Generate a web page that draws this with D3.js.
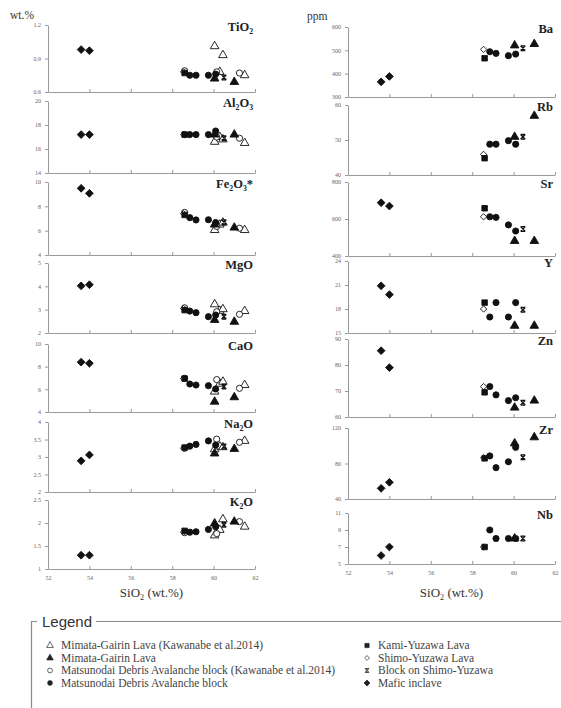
<!DOCTYPE html>
<html>
<head>
<meta charset="utf-8">
<script src="https://cdn.jsdelivr.net/npm/d3@7"></script>
<style>
body { margin: 0; background: #ffffff; }
svg { display: block; }
</style>
</head>
<body>
<svg id="chart" width="561" height="708"></svg>
<script>

//Panel names (digits get drawn as subscripts)
var majorNames = ["TiO2", "Al2O3", "Fe2O3*", "MgO", "CaO", "Na2O", "K2O"];
var traceNames = ["Ba", "Rb", "Sr", "Y", "Zn", "Zr", "Nb"];

//Tick labels of every panel, first and last are the axis limits
var majorTicks = [[0.6, 0.9, 1.2], [14, 16, 18, 20], [4, 6, 8, 10], [2, 3, 4, 5],
                  [4, 6, 8, 10], [2, 2.5, 3, 3.5, 4], [1, 1.5, 2, 2.5]];
var traceTicks = [[300, 400, 500, 600], [40, 50, 60], [400, 600, 800], [15, 18, 21, 24],
                  [60, 70, 80, 90], [40, 80, 120], [5, 7, 9, 11]];
var silicaTicks = [52, 54, 56, 58, 60, 62];

//Rows: SiO2, then TiO2, Al2O3, Fe2O3*, MgO, CaO, Na2O, K2O (wt.%)
var mimataKawanabeMajor = [[60.05, 1.01, 16.6, 6.05, 3.23, 5.80, 3.22, 1.73],
                           [60.30, 0.78, 17.0, 6.50, 2.95, 6.50, 3.30, 1.85],
                           [60.45, 0.93, 16.8, 6.66, 3.02, 6.67, 3.28, 2.08],
                           [61.50, 0.75, 16.5, 6.05, 2.94, 6.38, 3.46, 1.92]];
var mimataMajor = [[60.05, 0.72, 17.2, 6.50, 2.56, 4.91, 3.10, 1.99],
                   [61.00, 0.69, 17.2, 6.25, 2.48, 5.30, 3.23, 2.03]];
var matsuKawanabeMajor = [[58.60, 0.79, 17.2, 7.50, 3.08, 6.97, 3.25, 1.79],
                          [60.15, 0.78, 17.0, 6.35, 2.91, 6.86, 3.51, 1.77],
                          [61.25, 0.77, 16.9, 6.20, 2.80, 6.09, 3.42, 2.03]];
var matsuMajor = [[58.85, 0.75, 17.2, 7.07, 2.94, 6.47, 3.31, 1.80],
                  [59.15, 0.75, 17.2, 6.88, 2.87, 6.38, 3.36, 1.81],
                  [59.75, 0.75, 17.2, 6.90, 2.70, 6.32, 3.46, 1.86],
                  [60.10, 0.76, 17.5, 6.66, 2.77, 6.03, 3.34, 1.92]];
var kamiMajor = [[58.60, 0.77, 17.2, 7.29, 2.98, 6.95, 3.27, 1.83]];
var shimoMajor = [[58.55, 0.78, 17.2, 7.40, 3.05, 6.95, 3.25, 1.80]];
var blockMajor = [[60.50, 0.73, 16.9, 6.70, 2.70, 6.24, 3.30, 1.96]];
var maficMajor = [[53.60, 0.98, 17.2, 9.48, 4.02, 8.40, 2.89, 1.30],
                  [54.00, 0.97, 17.2, 9.07, 4.07, 8.30, 3.06, 1.30]];

//Rows: SiO2, then Ba, Rb, Sr, Y, Zn, Zr, Nb (ppm)
var mimataTrace = [[60.05, 521, 50.9, 481, 15.9, 63.6, 102.7, 8],
                   [61.00, 527, 56.9, 481, 15.9, 66.3, 109.5, null]];
var matsuTrace = [[58.85, 494, 48.8, 612, 17.0, 71.7, 88.5, 9],
                  [59.15, 487, 48.8, 609, 18.8, 68.5, 75.3, 8],
                  [59.75, 477, 49.8, 568, 17.0, 66.3, 82.0, 8],
                  [60.10, 484, 48.8, 535, 18.8, 67.4, 98.2, 8]];
var kamiTrace = [[58.60, 466, 44.8, 658, 18.8, 69.5, 85.8, 7]];
var shimoTrace = [[58.55, 504, 45.9, 612, 18.0, 71.7, 86.6, 7]];
var blockTrace = [[60.45, 509, 50.9, 546, 17.9, 65.5, 87.0, 8]];
var maficTrace = [[53.60, 365, null, 688, 20.9, 85.5, 52.0, 6],
                  [54.00, 388, null, 670, 19.8, 79.0, 58.8, 7]];

//Block on Shimo-Yuzawa marker: an x closed on top and bottom
var symbolBlock = {
    draw: function(ctx, size) {
        var r = Math.sqrt(size) / 2;
        ctx.moveTo(-r, -r); ctx.lineTo(r, r);
        ctx.moveTo(r, -r); ctx.lineTo(-r, r);
        ctx.moveTo(-r, -r); ctx.lineTo(r, -r);
        ctx.moveTo(-r, r); ctx.lineTo(r, r);
    }
};

//Square standing on a corner (same width and height)
var symbolRhomb = {
    draw: function(ctx, size) {
        var r = Math.sqrt(size / 2);
        ctx.moveTo(0, -r); ctx.lineTo(r, 0); ctx.lineTo(0, r); ctx.lineTo(-r, 0); ctx.closePath();
    }
};

//Series in draw order (open marks first so filled ones sit on top)
var series = [
    {name: "Mimata-Gairin Lava (Kawanabe et al.2014)", type: d3.symbolTriangle, size: 32, open: true, major: mimataKawanabeMajor, trace: []},
    {name: "Matsunodai Debris Avalanche block (Kawanabe et al.2014)", type: d3.symbolCircle, size: 30, open: true, major: matsuKawanabeMajor, trace: []},
    {name: "Shimo-Yuzawa Lava", type: symbolRhomb, size: 20, open: true, major: shimoMajor, trace: shimoTrace},
    {name: "Mimata-Gairin Lava", type: d3.symbolTriangle, size: 32, open: false, major: mimataMajor, trace: mimataTrace},
    {name: "Matsunodai Debris Avalanche block", type: d3.symbolCircle, size: 30, open: false, major: matsuMajor, trace: matsuTrace},
    {name: "Kami-Yuzawa Lava", type: d3.symbolSquare, size: 30, open: false, major: kamiMajor, trace: kamiTrace},
    {name: "Block on Shimo-Yuzawa", type: symbolBlock, size: 22, open: false, stroke: true, major: blockMajor, trace: blockTrace},
    {name: "Mafic inclave", type: symbolRhomb, size: 30, open: false, major: maficMajor, trace: maficTrace}
];

//Legend columns, by series name
var legendLeft = ["Mimata-Gairin Lava (Kawanabe et al.2014)", "Mimata-Gairin Lava",
                  "Matsunodai Debris Avalanche block (Kawanabe et al.2014)", "Matsunodai Debris Avalanche block"];
var legendRight = ["Kami-Yuzawa Lava", "Shimo-Yuzawa Lava", "Block on Shimo-Yuzawa", "Mafic inclave"];

//Layout
var serif = "'Liberation Serif', 'Times New Roman', serif";
var leftCol = {x0: 48, x1: 255, rows: [[25, 92], [101, 173], [182, 255], [263, 333], [344, 412], [422, 492], [500, 569]]};
var rightCol = {x0: 348, x1: 555, rows: [[27, 97], [105, 175], [182, 256], [261, 333], [339, 417], [428, 499], [513, 564]]};

var svg = d3.select("#chart");

//Write a label with its digits as subscripts
function subscriptText(sel, label, size) {
    var shift = size * 0.2;
    var down = false;
    label.split(/(\d+)/).forEach(function(part) {
        if (part === "") return;
        var sub = /^\d+$/.test(part);
        var ts = sel.append("tspan").text(part);
        if (sub) {
            ts.attr("font-size", size * 0.62).attr("dy", down ? 0 : shift);
            down = true;
        } else {
            ts.attr("font-size", size).attr("dy", down ? -shift : 0);
            down = false;
        }
    });
}

function drawMarks(g, rows, col, x, y, s) {
    var sym = d3.symbol().type(s.type).size(s.size);
    g.selectAll(null)
        .data(rows.filter(function(r) { return r[col] !== null; }))
        .enter().append("path")
        .attr("transform", function(r) { return "translate(" + x(r[0]) + "," + y(r[col]) + ")"; })
        .attr("d", sym)
        .attr("fill", s.stroke ? "none" : (s.open ? "#ffffff" : "#111111"))
        .attr("stroke", "#111111")
        .attr("stroke-width", s.stroke ? 1.3 : 0.9);
}

function drawColumn(layout, names, ticks, key) {
    var x = d3.scaleLinear().domain([52, 62]).range([layout.x0, layout.x1]);

    names.forEach(function(name, i) {
        var top = layout.rows[i][0], bottom = layout.rows[i][1];
        var t = ticks[i];
        var y = d3.scaleLinear().domain([t[0], t[t.length - 1]]).range([bottom, top]);
        var g = svg.append("g").attr("class", "panel");

        //Y axis
        var ya = g.append("g")
            .attr("transform", "translate(" + layout.x0 + ",0)")
            .call(d3.axisLeft(y).tickValues(t).tickSizeInner(3).tickSizeOuter(0).tickPadding(4)
                .tickFormat(function(d) { return String(d); }));

        //X axis, labels only under the last panel
        var xa = g.append("g")
            .attr("transform", "translate(0," + bottom + ")")
            .call(d3.axisBottom(x).tickValues(silicaTicks).tickSizeInner(-3).tickSizeOuter(0).tickPadding(7)
                .tickFormat(i === names.length - 1 ? d3.format("d") : ""));

        [ya, xa].forEach(function(a) {
            a.select(".domain").attr("stroke", "#9a9a9a");
            a.selectAll(".tick line").attr("stroke", "#9a9a9a");
            a.selectAll(".tick text").attr("fill", "#666").attr("font-size", 6).attr("font-family", serif);
        });

        //Panel title
        var title = g.append("text")
            .attr("x", layout.x1 - 2)
            .attr("y", top + 6)
            .attr("text-anchor", "end")
            .attr("font-family", serif)
            .attr("font-weight", "bold")
            .attr("font-size", 12.5)
            .attr("fill", "#222");
        subscriptText(title, name, 12.5);

        series.forEach(function(s) {
            drawMarks(g, s[key], i + 1, x, y, s);
        });
    });

    //SiO2 axis title
    var xt = svg.append("text")
        .attr("x", (layout.x0 + layout.x1) / 2)
        .attr("y", 597)
        .attr("text-anchor", "middle")
        .attr("font-family", serif)
        .attr("font-size", 13)
        .attr("fill", "#333");
    subscriptText(xt, "SiO2 (wt.%)", 13);
}

drawColumn(leftCol, majorNames, majorTicks, "major");
drawColumn(rightCol, traceNames, traceTicks, "trace");

//Unit labels
svg.append("text").attr("x", 10).attr("y", 19).attr("font-family", serif).attr("font-size", 11.5)
    .attr("fill", "#333").text("wt.%");
svg.append("text").attr("x", 307).attr("y", 20).attr("font-family", serif).attr("font-size", 11.5)
    .attr("fill", "#333").text("ppm");

//Legend box
var lg = svg.append("g").attr("class", "legend");
lg.append("path")
    .attr("d", "M37,621.5H31.5V708M96,621.5H561")
    .attr("fill", "none")
    .attr("stroke", "#8a8a8a")
    .attr("stroke-width", 1.2);
lg.append("text")
    .attr("x", 42).attr("y", 627)
    .attr("font-family", "'Liberation Sans', Arial, sans-serif")
    .attr("font-size", 15)
    .attr("fill", "#333")
    .text("Legend");

function legendColumn(list, symX, textX) {
    list.forEach(function(name, i) {
        var s = series.filter(function(d) { return d.name === name; })[0];
        var yy = 649 + i * 12.5;
        lg.append("path")
            .attr("transform", "translate(" + symX + "," + (yy - 3.5) + ")")
            .attr("d", d3.symbol().type(s.type).size(s.size * 0.6))
            .attr("fill", s.stroke ? "none" : (s.open ? "#ffffff" : "#222"))
            .attr("stroke", "#222")
            .attr("stroke-width", s.stroke ? 1 : 0.7);
        lg.append("text")
            .attr("x", textX).attr("y", yy)
            .attr("font-family", serif)
            .attr("font-size", 11.5)
            .attr("fill", "#444")
            .text(name);
    });
}

legendColumn(legendLeft, 50, 61);
legendColumn(legendRight, 367, 378);

</script>
</body>
</html>
